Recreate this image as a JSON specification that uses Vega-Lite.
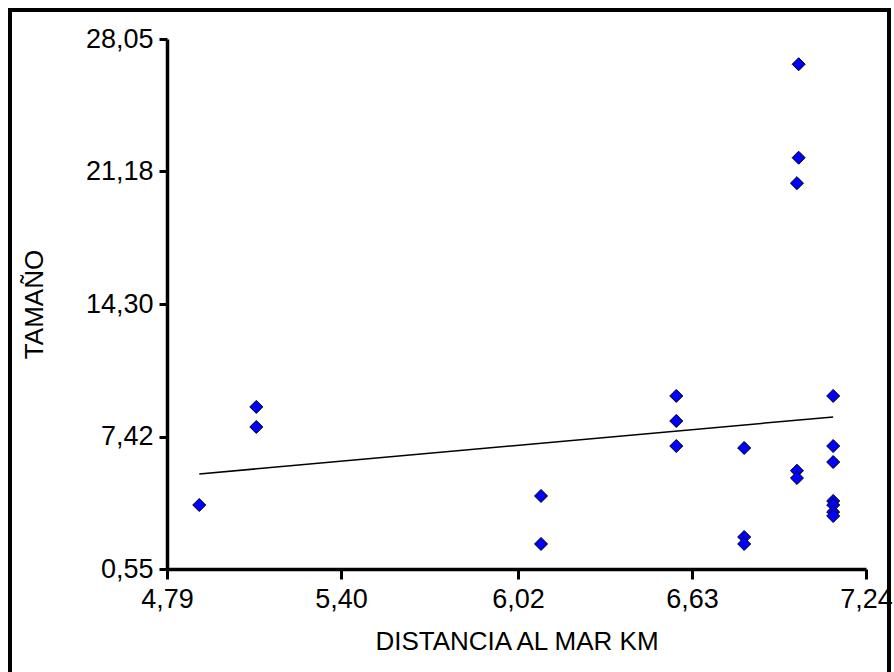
{
  "$schema": "https://vega.github.io/schema/vega-lite/v6.json",
  "width": 879,
  "height": 666,
  "autosize": {"type": "none"},
  "padding": {"left": 10, "top": 10, "right": 5, "bottom": -4},
  "background": "white",
  "config": {
    "view": {"stroke": "black", "strokeWidth": 4, "fill": "white"},
    "axis": {
      "grid": false,
      "domainColor": "black",
      "domainWidth": 3.5,
      "tickColor": "black",
      "tickWidth": 3,
      "labelFont": "Liberation Sans",
      "labelFontSize": 27,
      "labelColor": "black",
      "titleFont": "Liberation Sans",
      "titleFontSize": 26,
      "titleFontWeight": "normal",
      "titleColor": "black",
      "labelOverlap": false,
      "labelFlush": false
    }
  },
  "datasets": {
    "puntos": [
      {"distancia": 4.903, "tamano": 3.87},
      {"distancia": 5.103, "tamano": 8.96},
      {"distancia": 5.103, "tamano": 7.92},
      {"distancia": 6.101, "tamano": 4.34},
      {"distancia": 6.101, "tamano": 1.85},
      {"distancia": 6.575, "tamano": 9.53},
      {"distancia": 6.575, "tamano": 8.23},
      {"distancia": 6.575, "tamano": 6.93},
      {"distancia": 6.813, "tamano": 6.83},
      {"distancia": 6.813, "tamano": 2.21},
      {"distancia": 6.813, "tamano": 1.85},
      {"distancia": 6.998, "tamano": 5.65},
      {"distancia": 6.998, "tamano": 5.27},
      {"distancia": 7.004, "tamano": 26.74},
      {"distancia": 7.004, "tamano": 21.89},
      {"distancia": 6.998, "tamano": 20.57},
      {"distancia": 7.125, "tamano": 9.53},
      {"distancia": 7.125, "tamano": 6.93},
      {"distancia": 7.125, "tamano": 6.10},
      {"distancia": 7.125, "tamano": 4.08},
      {"distancia": 7.125, "tamano": 3.87},
      {"distancia": 7.125, "tamano": 3.51},
      {"distancia": 7.125, "tamano": 3.30}
    ],
    "tendencia": [
      {"distancia": 4.903, "tamano": 5.48},
      {"distancia": 7.125, "tamano": 8.44}
    ]
  },
  "layer": [
    {
      "data": {"name": "tendencia"},
      "mark": {"type": "line", "color": "black", "strokeWidth": 1.5},
      "encoding": {
        "x": {
          "field": "distancia",
          "type": "quantitative",
          "scale": {"domain": [4.79, 7.24], "range": [157, 856], "nice": false, "zero": false},
          "axis": {
            "title": "DISTANCIA AL MAR KM",
            "orient": "bottom",
            "offset": -107,
            "values": [4.79, 5.40, 6.02, 6.63, 7.24],
            "labelExpr": "replace(format(datum.value, '.2f'), '.', ',')",
            "tickSize": 10,
            "labelPadding": 7,
            "titlePadding": 16
          }
        },
        "y": {
          "field": "tamano",
          "type": "quantitative",
          "scale": {"domain": [0.55, 28.05], "range": [559, 29], "nice": false, "zero": false},
          "axis": {
            "title": "TAMAÑO",
            "orient": "left",
            "offset": -157,
            "values": [0.55, 7.42, 14.30, 21.18, 28.05],
            "labelExpr": "replace(format(datum.value, '.2f'), '.', ',')",
            "tickSize": 8,
            "labelPadding": 6,
            "titlePadding": 38
          }
        }
      }
    },
    {
      "data": {"name": "puntos"},
      "mark": {"type": "point", "shape": "diamond", "filled": true, "fill": "#0000FF", "stroke": "black", "strokeWidth": 1, "size": 170, "opacity": 1},
      "encoding": {
        "x": {"field": "distancia", "type": "quantitative"},
        "y": {"field": "tamano", "type": "quantitative"}
      }
    }
  ]
}
